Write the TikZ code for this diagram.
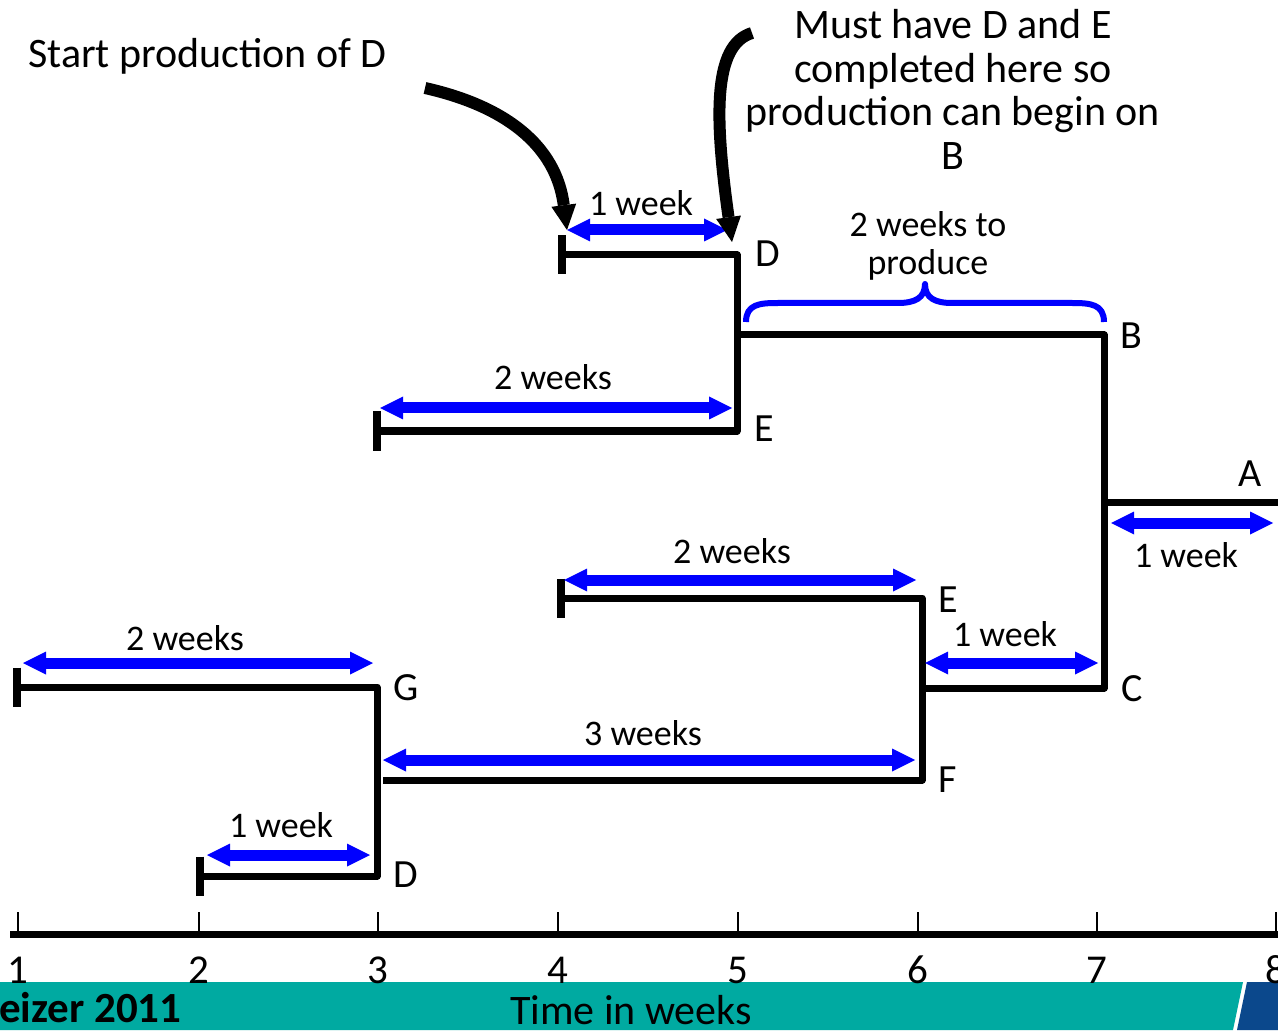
\documentclass[tikz,border=0pt]{standalone}
\usepackage{fontspec}
\setmainfont{Carlito}
\usetikzlibrary{arrows.meta}
\definecolor{teal1}{RGB}{0,170,161}
\definecolor{navy1}{RGB}{11,72,140}
\definecolor{pblue}{RGB}{0,0,255}
\begin{document}
\begin{tikzpicture}[x=1pt,y=-1pt,
  bar/.style={line width=7pt, line join=round},
  startbar/.style={line width=8pt},
  dur/.style={pblue, line width=11pt,
    {Triangle[width=23pt,length=23pt,line width=0pt]}-{Triangle[width=23pt,length=23pt,line width=0pt]}},
  callarrow/.style={line width=12pt, -{Triangle[width=25pt,length=25pt,line width=0pt]}},
  lbl/.style={font=\fontsize{36}{38}\selectfont, inner sep=0pt, anchor=base},
  letter/.style={font=\fontsize{40}{42}\selectfont, inner sep=0pt, anchor=base west},
  callout/.style={font=\fontsize{42}{43.5}\selectfont, inner sep=0pt},
  num/.style={font=\fontsize{41}{42}\selectfont, inner sep=0pt, anchor=base},
]
\useasboundingbox (0,0) rectangle (1278,1032);
\clip (0,0) rectangle (1278,1032);
\fill[white] (0,0) rectangle (1278,1032);

% ---------- bottom band ----------
\fill[teal1] (0,982) -- (1243,982) -- (1233,1030) -- (0,1030) -- cycle;
\fill[navy1] (1247,982) -- (1278,982) -- (1278,1030) -- (1237,1030) -- cycle;
\node[callout, anchor=base] (tw) at (631,1024) {Time in weeks};
\node[callout, font=\fontsize{43}{44}\selectfont\bfseries, anchor=base west] (hz) at (-1,1022) {eizer 2011};

% ---------- time axis ----------
\coordinate (ax0) at (10,934);
\coordinate (ax1) at (1278,934);
\draw[line width=7pt] (ax0) -- (ax1);
\foreach \i/\x in {1/18,2/199,3/378,4/558,5/738,6/918,7/1097,8/1276}{
  \coordinate (tk\i) at (\x,934);
  \draw[line width=2pt] (tk\i) -- ++(0,-22);
  \node[num] (n\i) at (\x,983) {\i};
}

% ---------- key points ----------
\coordinate (Dts) at (562,255);  \coordinate (Dtc) at (737,255);
\coordinate (Ets) at (377,431);  \coordinate (Etc) at (737,431);
\coordinate (Bs)  at (737,335);  \coordinate (Bc)  at (1104,335);
\coordinate (Cc)  at (1104,688); \coordinate (Cs)  at (922,688);
\coordinate (As)  at (1104,502); \coordinate (Ae)  at (1278,502);
\coordinate (Els) at (561,598);  \coordinate (Elc) at (922,598);
\coordinate (Flc) at (922,780);  \coordinate (Fls) at (383,780);
\coordinate (Gs)  at (17,687);   \coordinate (Gc)  at (377,687);
\coordinate (Dlc) at (377,876);  \coordinate (Dls) at (200,876);

% ---------- product structure lines ----------
\draw[bar] (Dts) -- (Dtc) -- (Etc) -- (Ets);
\draw[bar] (Bs) -- (Bc) -- (Cc) -- (Cs);
\draw[bar] (As) -- (Ae);
\draw[bar] (Els) -- (Elc) -- (Flc) -- (Fls);
\draw[bar] (Gs) -- (Gc) -- (Dlc) -- (Dls);

% start bars
\foreach \p in {Dts,Ets,Els,Gs,Dls}{
  \draw[startbar] ([yshift=19.5pt]\p) -- ([yshift=-19.5pt]\p);
}

% ---------- duration arrows ----------
\coordinate (a1l) at (567,230);  \coordinate (a1r) at (727,230);
\coordinate (a2l) at (380,408);  \coordinate (a2r) at (732,408);
\coordinate (a3l) at (564,580);  \coordinate (a3r) at (916,580);
\coordinate (a4l) at (925,663);  \coordinate (a4r) at (1098,663);
\coordinate (a5l) at (1111,523); \coordinate (a5r) at (1273,523);
\coordinate (a6l) at (23,663);   \coordinate (a6r) at (373,663);
\coordinate (a7l) at (383,760);  \coordinate (a7r) at (915,760);
\coordinate (a8l) at (207,855);  \coordinate (a8r) at (370,855);
\foreach \k in {1,...,8}{ \draw[dur] (a\k l) -- (a\k r); }

% ---------- brace ----------
\draw[pblue, line width=6pt, line join=round]
  (746,322) .. controls (746,304) and (760,303) .. (778,303) -- (898,303)
  .. controls (915,303) and (925,298) .. (925,284)
  .. controls (925,298) and (935,303) .. (952,303) -- (1072,303)
  .. controls (1090,303) and (1104,304) .. (1104,322);

% ---------- duration labels ----------
\node[lbl] (l1) at (641,216) {1 week};
\node[lbl] (l2) at (553,390) {2 weeks};
\node[lbl] (l3) at (732,563) {2 weeks};
\node[lbl] (l4) at (1005,646) {1 week};
\node[lbl] (l5) at (1186,567) {1 week};
\node[lbl] (l6) at (185,650) {2 weeks};
\node[lbl] (l7) at (643,745) {3 weeks};
\node[lbl] (l8) at (281,837) {1 week};
\node[lbl] (bp1) at (928,237) {2 weeks to};
\node[lbl] (bp2) at (928,275) {produce};

% ---------- item letters ----------
\node[letter] (LD1) at (755,267) {D};
\node[letter] (LB)  at (1120,349) {B};
\node[letter] (LE1) at (754,442) {E};
\node[letter] (LA)  at (1238,486) {A};
\node[letter] (LE2) at (938,612) {E};
\node[letter] (LC)  at (1121,701) {C};
\node[letter] (LF)  at (938,792) {F};
\node[letter] (LG)  at (393,700) {G};
\node[letter] (LD2) at (393,887) {D};

% ---------- callouts ----------
\node[callout, anchor=base west] (st) at (28,68) {Start production of D};
\node[callout, anchor=base] (m1) at (953,39) {Must have D and E};
\node[callout, anchor=base] (m2) at (953,82.5) {completed here so};
\node[callout, anchor=base] (m3) at (953,126) {production can begin on};
\node[callout, anchor=base] (m4) at (953,169.5) {B};

\coordinate (s1) at (425,88);
\coordinate (s2) at (752,33);
\draw[callarrow] (s1) .. controls (505,106) and (556,145) .. (a1l);
\draw[callarrow] (s2) .. controls (712,45) and (715,120) .. (732,242);
\end{tikzpicture}
\end{document}
